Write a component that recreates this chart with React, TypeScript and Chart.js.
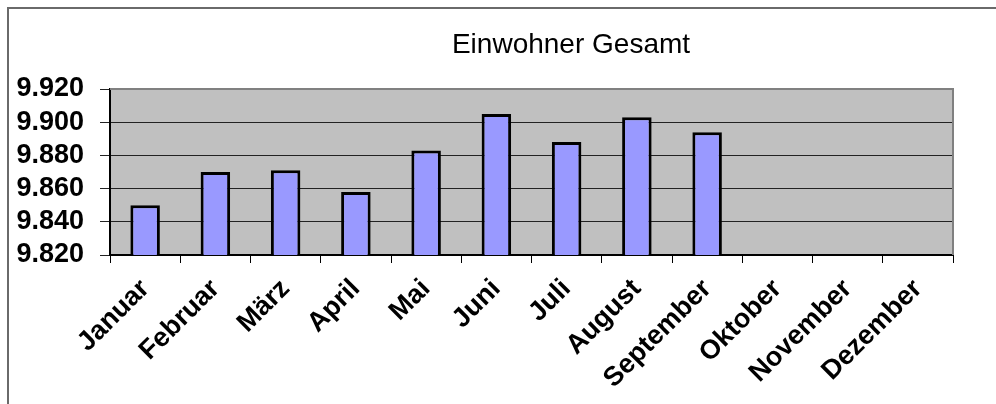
import React, { useEffect, useRef } from 'react';
import { Chart, registerables } from 'chart.js';

Chart.register(...registerables);

const months = [
  'Januar', 'Februar', 'März', 'April', 'Mai', 'Juni',
  'Juli', 'August', 'September', 'Oktober', 'November', 'Dezember',
];
const einwohner: (number | null)[] = [9850, 9870, 9871, 9858, 9883, 9905, 9888, 9903, 9894, null, null, null];
const yMin = 9820;
const yMax = 9920;
const yStep = 20;
const chartTitle = 'Einwohner Gesamt';

function fmt(v: number): string {
  const s = String(Math.round(v));
  return s.length > 3 ? s.slice(0, -3) + '.' + s.slice(-3) : s;
}

const FONT = 'Arial, "Liberation Sans", sans-serif';

const decorPlugin = {
  id: 'decor',
  beforeDraw(chart: any) {
    const { ctx, chartArea } = chart;
    ctx.save();
    ctx.fillStyle = '#ffffff';
    ctx.fillRect(0, 0, chart.width, chart.height);
    ctx.strokeStyle = '#6a6a6a';
    ctx.lineWidth = 2;
    ctx.beginPath();
    ctx.moveTo(8, chart.height);
    ctx.lineTo(8, 8);
    ctx.lineTo(chart.width, 8);
    ctx.stroke();
    ctx.fillStyle = '#c0c0c0';
    ctx.fillRect(chartArea.left, chartArea.top, chartArea.right - chartArea.left, chartArea.bottom - chartArea.top);
    ctx.restore();
  },
  afterDraw(chart: any) {
    const { ctx, chartArea } = chart;
    ctx.save();
    ctx.strokeStyle = '#808080';
    ctx.lineWidth = 2;
    ctx.beginPath();
    ctx.moveTo(chartArea.left, chartArea.top);
    ctx.lineTo(chartArea.right, chartArea.top);
    ctx.lineTo(chartArea.right, chartArea.bottom);
    ctx.stroke();
    ctx.fillStyle = '#000';
    ctx.font = `28px ${FONT}`;
    ctx.textAlign = 'center';
    ctx.textBaseline = 'alphabetic';
    ctx.fillText(chartTitle, 571, 53);
    ctx.restore();
  },
};

export default function App() {
  const ref = useRef<HTMLCanvasElement | null>(null);

  useEffect(() => {
    document.body.style.margin = '0';
    if (!ref.current) return;
    const chart = new Chart(ref.current, {
      type: 'bar',
      data: {
        labels: months,
        datasets: [
          {
            label: chartTitle,
            data: einwohner,
            backgroundColor: '#9999ff',
            borderColor: '#000000',
            borderWidth: 3,
            borderSkipped: false,
            categoryPercentage: 1,
            barPercentage: 0.42,
          },
        ],
      },
      options: {
        responsive: false,
        animation: false,
        layout: { padding: { top: 89, right: 43, left: 0, bottom: 0 } },
        plugins: {
          legend: { display: false },
          title: { display: false },
          tooltip: { enabled: false },
        },
        scales: {
          x: {
            offset: true,
            grid: {
              offset: true,
              drawOnChartArea: false,
              drawTicks: true,
              tickLength: 8,
              color: '#000',
            },
            border: { display: true, color: '#000', width: 2 },
            ticks: {
              autoSkip: false,
              minRotation: 45,
              maxRotation: 45,
              padding: 10,
              color: '#000',
              font: { family: FONT, size: 27, weight: 'bold' },
            },
            afterFit(scale: any) {
              scale.height = 404 - 255;
            },
          },
          y: {
            min: yMin,
            max: yMax,
            grid: {
              color: '#222',
              lineWidth: 1,
              tickLength: 10,
            },
            border: { display: true, color: '#000', width: 2 },
            ticks: {
              stepSize: yStep,
              autoSkip: false,
              padding: 16,
              color: '#000',
              font: { family: FONT, size: 27, weight: 'bold' },
              callback: (v: any) => fmt(Number(v)),
            },
            afterFit(scale: any) {
              scale.width = 110;
            },
          },
        },
      },
      plugins: [decorPlugin],
    });
    return () => chart.destroy();
  }, []);

  return (
    <div style={{ width: 996, height: 404 }}>
      <canvas ref={ref} width={996} height={404} style={{ display: 'block' }} />
    </div>
  );
}
